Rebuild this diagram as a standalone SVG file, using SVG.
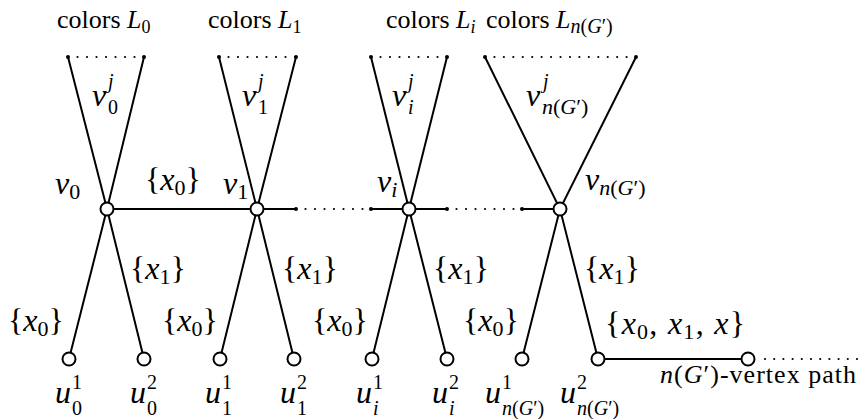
<svg xmlns="http://www.w3.org/2000/svg" width="860" height="419" viewBox="0 0 860 419">
<style>
.ln{stroke:#000;stroke-width:2;fill:none}
.dt{stroke:#000;stroke-width:2.2;fill:none;stroke-linecap:round;stroke-dasharray:0 9.5}
.nd{stroke:#000;stroke-width:2;fill:#fff}
.ed{fill:#000}
.t{font-size:26px}
.m{font-size:32px}
.i{font-style:italic}
.s{font-size:22px}
.s2{font-size:18px}
.ss{font-size:20px}
</style>
<rect width="860" height="419" fill="#fff"/>
<g id="connectors">
<polyline class="ln" points="68,57 107,209 144,359"/>
<polyline class="ln" points="144,57 107,209 69,359"/>
<polyline class="ln" points="219,57 257,209 294,359"/>
<polyline class="ln" points="296,57 257,209 220,359"/>
<polyline class="ln" points="371,57 409,209 447,359"/>
<polyline class="ln" points="447,57 409,209 372,359"/>
<polyline class="ln" points="485,57 560,209 598,359"/>
<polyline class="ln" points="636,57 560,209 522,359"/>
<line class="dt" x1="68" y1="57" x2="144" y2="57"/>
<line class="dt" x1="219" y1="57" x2="296" y2="57"/>
<line class="dt" x1="371" y1="57" x2="447" y2="57"/>
<line class="dt" x1="485" y1="57" x2="636" y2="57" style="stroke-dasharray:0 9.44"/>
<g class="ed">
<circle cx="68" cy="57" r="2"/><circle cx="144" cy="57" r="2"/>
<circle cx="219" cy="57" r="2"/><circle cx="296" cy="57" r="2"/>
<circle cx="371" cy="57" r="2"/><circle cx="447" cy="57" r="2"/>
<circle cx="485" cy="57" r="2"/><circle cx="636" cy="57" r="2"/>
</g>
<line class="ln" x1="107" y1="209" x2="296" y2="209"/>
<line class="dt" x1="296" y1="209" x2="371" y2="209"/>
<line class="ln" x1="371" y1="209" x2="447" y2="209"/>
<line class="dt" x1="447" y1="209" x2="522" y2="209"/>
<line class="ln" x1="522" y1="209" x2="560" y2="209"/>
<g class="ed">
<circle cx="296" cy="209" r="2"/><circle cx="371" cy="209" r="2"/>
<circle cx="447" cy="209" r="2"/><circle cx="522" cy="209" r="2"/>
</g>
<line class="ln" x1="598" y1="359" x2="748" y2="359"/>
<line class="dt" x1="765" y1="359" x2="857" y2="359" style="stroke-dasharray:0 9.2"/>
</g>
<g id="v0"><circle class="nd" cx="107" cy="209" r="6.5"/></g>
<g id="v1"><circle class="nd" cx="257" cy="209" r="6.5"/></g>
<g id="vi"><circle class="nd" cx="409" cy="209" r="6.5"/></g>
<g id="vn"><circle class="nd" cx="560" cy="209" r="6.5"/></g>
<g id="u01"><circle class="nd" cx="69" cy="359" r="6.5"/></g>
<g id="u02"><circle class="nd" cx="144" cy="359" r="6.5"/></g>
<g id="u11"><circle class="nd" cx="220" cy="359" r="6.5"/></g>
<g id="u12"><circle class="nd" cx="294" cy="359" r="6.5"/></g>
<g id="ui1"><circle class="nd" cx="372" cy="359" r="6.5"/></g>
<g id="ui2"><circle class="nd" cx="447" cy="359" r="6.5"/></g>
<g id="un1"><circle class="nd" cx="522" cy="359" r="6.5"/></g>
<g id="un2"><circle class="nd" cx="598" cy="359" r="6.5"/></g>
<g id="p1"><circle class="nd" cx="748" cy="359" r="6.5"/></g>
<g id="labels" fill="#000" font-family="'Liberation Serif', 'Liberation Sans', sans-serif">
<text class="t" x="57" y="28">colors <tspan class="i">L</tspan><tspan class="s2" dy="5">0</tspan></text>
<text class="t" x="208" y="28">colors <tspan class="i">L</tspan><tspan class="s2" dy="5">1</tspan></text>
<text class="t" x="386" y="28">colors <tspan class="i">L</tspan><tspan class="s2 i" dy="5">i</tspan></text>
<text class="t" x="486" y="28">colors <tspan class="i">L</tspan><tspan class="ss" dy="5"><tspan class="i">n</tspan>(<tspan class="i">G</tspan>′)</tspan></text>
<text class="m"><tspan class="i" x="92" y="106">v</tspan><tspan class="ss i" x="108" y="88">j</tspan><tspan class="ss" x="108" y="114">0</tspan></text>
<text class="m"><tspan class="i" x="242" y="106">v</tspan><tspan class="ss i" x="258" y="88">j</tspan><tspan class="ss" x="258" y="114">1</tspan></text>
<text class="m"><tspan class="i" x="392" y="106">v</tspan><tspan class="ss i" x="408" y="88">j</tspan><tspan class="ss i" x="408" y="114">i</tspan></text>
<text class="m"><tspan class="i" x="526" y="106">v</tspan><tspan class="ss i" x="543" y="88">j</tspan><tspan class="s" x="542" y="114"><tspan class="i">n</tspan>(<tspan class="i">G</tspan>′)</tspan></text>
<text class="m" x="55" y="194"><tspan class="i">v</tspan><tspan class="s" dy="5">0</tspan></text>
<text class="m" x="223" y="194"><tspan class="i">v</tspan><tspan class="s" dy="5">1</tspan></text>
<text class="m" x="377" y="192"><tspan class="i">v</tspan><tspan class="s i" dy="5">i</tspan></text>
<text class="m" x="585" y="190"><tspan class="i">v</tspan><tspan class="s" dy="5"><tspan class="i">n</tspan>(<tspan class="i">G</tspan>′)</tspan></text>
<text class="m" x="145" y="190">{<tspan class="i">x</tspan><tspan class="s" dy="5">0</tspan><tspan dy="-5">}</tspan></text>
<text class="m" x="130" y="279">{<tspan class="i">x</tspan><tspan class="s" dy="5">1</tspan><tspan dy="-5">}</tspan></text>
<text class="m" x="282" y="279">{<tspan class="i">x</tspan><tspan class="s" dy="5">1</tspan><tspan dy="-5">}</tspan></text>
<text class="m" x="433" y="279">{<tspan class="i">x</tspan><tspan class="s" dy="5">1</tspan><tspan dy="-5">}</tspan></text>
<text class="m" x="584" y="279">{<tspan class="i">x</tspan><tspan class="s" dy="5">1</tspan><tspan dy="-5">}</tspan></text>
<text class="m" x="8" y="331">{<tspan class="i">x</tspan><tspan class="s" dy="5">0</tspan><tspan dy="-5">}</tspan></text>
<text class="m" x="162" y="331">{<tspan class="i">x</tspan><tspan class="s" dy="5">0</tspan><tspan dy="-5">}</tspan></text>
<text class="m" x="312" y="331">{<tspan class="i">x</tspan><tspan class="s" dy="5">0</tspan><tspan dy="-5">}</tspan></text>
<text class="m" x="463" y="331">{<tspan class="i">x</tspan><tspan class="s" dy="5">0</tspan><tspan dy="-5">}</tspan></text>
<text class="m" x="605" y="334" textLength="140" lengthAdjust="spacing">{<tspan class="i">x</tspan><tspan class="s" dy="5">0</tspan><tspan dy="-5">, </tspan><tspan class="i">x</tspan><tspan class="s" dy="5">1</tspan><tspan dy="-5">, </tspan><tspan class="i">x</tspan>}</text>
<text class="m"><tspan class="i" x="55" y="403">u</tspan><tspan class="ss" x="72" y="389">1</tspan><tspan class="ss" x="72" y="415">0</tspan></text>
<text class="m"><tspan class="i" x="130" y="403">u</tspan><tspan class="ss" x="147" y="389">2</tspan><tspan class="ss" x="147" y="415">0</tspan></text>
<text class="m"><tspan class="i" x="205" y="403">u</tspan><tspan class="ss" x="222" y="389">1</tspan><tspan class="ss" x="222" y="415">1</tspan></text>
<text class="m"><tspan class="i" x="280" y="403">u</tspan><tspan class="ss" x="297" y="389">2</tspan><tspan class="ss" x="297" y="415">1</tspan></text>
<text class="m"><tspan class="i" x="356" y="403">u</tspan><tspan class="ss" x="373" y="389">1</tspan><tspan class="ss i" x="373" y="415">i</tspan></text>
<text class="m"><tspan class="i" x="432" y="403">u</tspan><tspan class="ss" x="449" y="389">2</tspan><tspan class="ss i" x="449" y="415">i</tspan></text>
<text class="m"><tspan class="i" x="485" y="403">u</tspan><tspan class="ss" x="502" y="389">1</tspan><tspan class="ss" x="502" y="415"><tspan class="i">n</tspan>(<tspan class="i">G</tspan>′)</tspan></text>
<text class="m"><tspan class="i" x="560" y="403">u</tspan><tspan class="ss" x="577" y="389">2</tspan><tspan class="ss" x="577" y="415"><tspan class="i">n</tspan>(<tspan class="i">G</tspan>′)</tspan></text>
<text class="t" x="660" y="383" textLength="196" lengthAdjust="spacing"><tspan class="i">n</tspan>(<tspan class="i">G</tspan>′)-vertex path</text>
</g>
</svg>
